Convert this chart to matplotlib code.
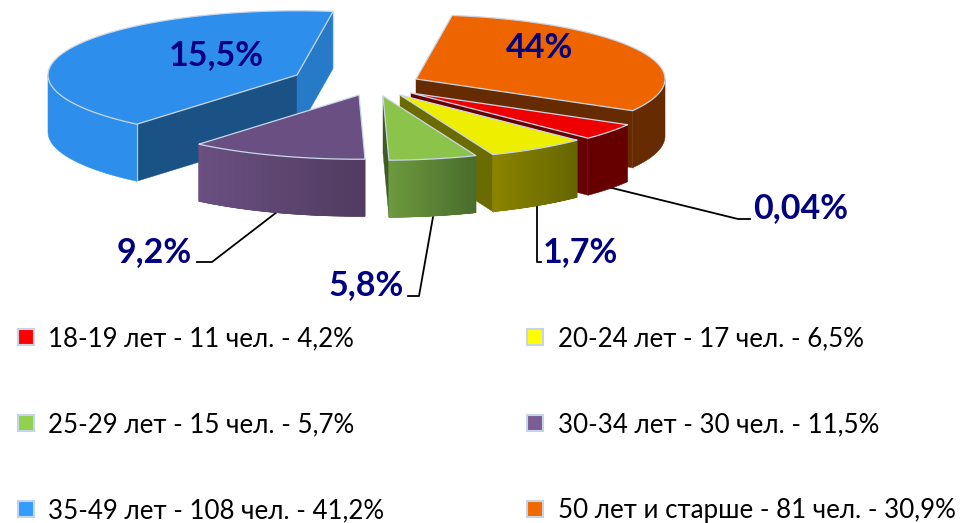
import numpy as np
import matplotlib
matplotlib.use("Agg")
import matplotlib.pyplot as plt
from matplotlib.patches import Polygon, Rectangle
from matplotlib import colors as mc

# ---- data ----
categories = ["18-19 лет - 11 чел. - 4,2%", "20-24 лет - 17 чел. - 6,5%",
              "25-29 лет - 15 чел. - 5,7%", "30-34 лет - 30 чел. - 11,5%",
              "35-49 лет - 108 чел. - 41,2%", "50 лет и старше - 81 чел. - 30,9%"]
shares = [4.2, 6.5, 5.7, 11.5, 41.2, 30.9]
data_labels = ["0,04%", "1,7%", "5,8%", "9,2%", "15,5%", "44%"]

# ---- style / layout ----
legend_colors = ["#FF0000", "#FFFF00", "#92D050", "#7A5C96", "#339CFF", "#F06A00"]
top_colors = ["#EE0000", "#EEEE00", "#8BC34B", "#6A5082", "#2E8EEC", "#EE6500"]
cut_colors = ["#660000", "#6B6B00", "#3F5C24", "#513B5F", "#1B5286", "#662B00"]
second_cut = {4: "#277AC8"}
wall_left = ["#660000", "#8A8400", "#6C9A3D", "#6A5082", "#2E8EEC", "#662B00"]
wall_right = ["#660000", "#666600", "#4A6B2D", "#513B5F", "#2E8EEC", "#662B00"]
explode_x = [53, 42, 25, 1, -61, 58]
explode_y = [7, 9, 10, 9, -11, -7]
draw_order = [4, 5, 0, 1, 2, 3]
CX, CY, R, K, DEPTH, START = 358, 86, 249, 0.258, 57, 134.7 - 15.12
EDGE = "#C9D6EA"

plt.rcParams["font.family"] = ["Lato", "Noto Sans", "DejaVu Sans"]

fig = plt.figure(figsize=(9.62, 5.23), dpi=100)
ax = fig.add_axes([0, 0, 1, 1])
ax.set_xlim(0, 962)
ax.set_ylim(523, 0)
ax.axis("off")

# leader lines
leaders = {0: ([608, 738, 750], [187, 219, 219]),
           1: ([537, 537, 541], [205, 262, 262]),
           2: ([433, 419, 408], [217, 296, 296]),
           3: ([277, 212, 197], [212, 262, 262])}
for xs, ys in leaders.values():
    ax.plot(xs, ys, color="black", lw=1.3, zorder=1)

sweeps = 360 * np.array(shares) / sum(shares)
starts = START + np.concatenate([[0], np.cumsum(sweeps)[:-1]])


def pt(i, theta, r=R, dz=0):
    t = np.radians(theta)
    return (CX + explode_x[i] + r * np.sin(t),
            CY + explode_y[i] - r * K * np.cos(t) + dz)


z = 2
for i in draw_order:
    a0, a1 = starts[i], starts[i] + sweeps[i]
    tip = pt(i, a0, 0)
    # radial cut faces facing the viewer
    for theta, visible in ((a0, np.sin(np.radians(a0)) < 0),
                           (a1, np.sin(np.radians(a1)) > 0)):
        if visible:
            p = pt(i, theta)
            c = second_cut[i] if (i in second_cut and theta == a1) else cut_colors[i]
            ax.add_patch(Polygon([tip, p, (p[0], p[1] + DEPTH), (tip[0], tip[1] + DEPTH)],
                                 fc=c, ec=c, lw=0.3, zorder=z))
            z += 1
            ax.plot([p[0], p[0]], [p[1], p[1] + DEPTH], color=EDGE, lw=0.9, zorder=z)
    # outer wall with gradient
    th = np.linspace(a0, a1, 240)
    pts = np.array([pt(i, a) for a in th])
    front = np.cos(np.radians(th)) < 0
    if front.any():
        idx = np.where(front)[0]
        xmin, xmax = pts[idx, 0].min(), pts[idx, 0].max()
        cl, cr = np.array(mc.to_rgb(wall_left[i])), np.array(mc.to_rgb(wall_right[i]))
        base = np.vstack([pts[idx], pts[idx][::-1] + [0, DEPTH]])
        ax.add_patch(Polygon(base, fc=(cl + cr) / 2, ec=(cl + cr) / 2, lw=0.4, zorder=z))
        z += 1
        if wall_left[i] != wall_right[i]:
            for j0, j1 in zip(idx[:-1], idx[1:]):
                p, q = pts[j0], pts[j1]
                f = ((p[0] + q[0]) / 2 - xmin) / max(xmax - xmin, 1)
                col = cl + (cr - cl) * f
                ax.add_patch(Polygon([p, q, (q[0], q[1] + DEPTH), (p[0], p[1] + DEPTH)],
                                     fc=col, ec=col, lw=0.5, zorder=z))
    z += 1
    # top face
    poly = np.vstack([[tip], pts])
    ax.add_patch(Polygon(poly, closed=True, fc=top_colors[i], ec=EDGE, lw=0.9,
                         joinstyle="round", zorder=z))
    z += 1

# data labels
label_pos = [(801, 208.5), (580, 252.5), (366, 285.5), (154, 252.5), (216, 55.5), (539, 48.5)]
for s, (x, y) in zip(data_labels, label_pos):
    ax.text(x, y, s, color="#000080", fontsize=24.5, fontweight="bold",
            ha="center", va="center", zorder=200)

# legend
lx = [26, 535]
tx = [48, 558]
ly = [338.5, 424.5, 510.5]
my = [337, 423, 509]
for n, (cat, col) in enumerate(zip(categories, legend_colors)):
    c, r = n % 2, n // 2
    ax.add_patch(Rectangle((lx[c] - 8, my[r] - 8), 16, 16, fc=col, ec="#C6D4EA",
                           lw=1.5, zorder=200))
    ax.text(tx[c], ly[r], cat, color="black", fontsize=18.6, ha="left",
            va="center", zorder=200)

fig.savefig("out.png", dpi=100)
